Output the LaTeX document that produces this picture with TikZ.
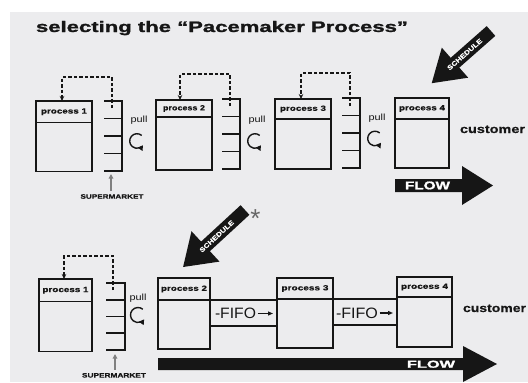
\documentclass[tikz,border=0pt]{standalone}
\usepackage{fontspec}
\usepackage{graphicx}
\setmainfont{Liberation Sans}
\newfontfamily\heavy[FakeBold=1.3]{Liberation Sans Bold}
\newfontfamily\boldf[FakeBold=0.4]{Liberation Sans Bold}
\usetikzlibrary{arrows.meta,calc}
\newcommand{\fitbox}[3]{\resizebox{#1pt}{#2pt}{#3}}
\definecolor{bg}{RGB}{236,236,238}
\definecolor{ink}{RGB}{22,22,22}
\definecolor{smgray}{RGB}{128,128,128}
\tikzset{
  procbox/.style={draw=ink, line width=1.6pt, outer sep=0pt, inner sep=0pt},
  procline/.style={draw=ink, line width=1.6pt},
  smline/.style={draw=ink, line width=1.6pt},
  kanban/.style={draw=ink, line width=1.1pt, dash pattern=on 3.5pt off 2pt, -{Stealth[length=5pt,width=4.5pt]}},
  cyc/.style={draw=ink, line width=1.4pt, -{Triangle[length=5pt,width=5.5pt]}},
  txt/.style={inner sep=0pt, outer sep=0pt, text=ink},
  smarrow/.style={draw=smgray, line width=1.3pt, -{Triangle[length=4.5pt,width=4.5pt]}},
  fifoarrow/.style={draw=ink, line width=1.2pt, -{Triangle[length=5pt,width=4pt]}},
  bigarrow/.style={fill=ink}
}
\newcommand{\procbox}[8]{%
  \node[procbox, minimum width=#4pt, minimum height=#5pt, anchor=north west] (#1) at (#2,#3) {};
  \draw[procline] ($(#1.north west)+(0,#6)$) -- ($(#1.north east)+(0,#6)$);
  \node[txt] (#1lbl) at ($(#1.north)+(0,#6/2)$) {\boldf\fitbox{#7}{5.2}{process #8}};
}
\newcommand{\smkt}[5]{% name x ytop ybot ticklen
  \coordinate (#1) at (#2,#3);
  \draw[smline] (#2,#3) -- (#2,#4);
  \foreach \i in {0,...,4}{
    \draw[smline] ({#2-#5},{#3+\i*(#4-#3)/4}) -- ({#2+0.8},{#3+\i*(#4-#3)/4});
  }
}
\begin{document}
\begin{tikzpicture}[x=1pt,y=-1pt]
\useasboundingbox (0,0) rectangle (528,383);
\fill[bg] (10,12) rectangle (528,382);

% title
\node[txt, anchor=base west] (title) at (36,32) {\heavy\fitbox{372}{11}{selecting the “Pacemaker Process”}};

% ---------- top row ----------
\procbox{t1}{36}{101}{56}{70.5}{21.5}{46}{1}
\procbox{t2}{156}{100}{56}{70}{17}{42}{2}
\procbox{t3}{275}{99}{56}{70}{20}{46}{3}
\procbox{t4}{395}{98}{54}{70}{21}{46}{4}

\smkt{s1}{122}{101}{171}{18}
\smkt{s2}{240}{99}{169}{18}
\smkt{s3}{360}{98}{168}{18}

\coordinate (k1) at (112,108);
\coordinate (k2) at (230,106);
\coordinate (k3) at (350,106);
\draw[kanban] (k1) -- (k1 |- 0,77) -| ($(t1.north west)+(26,0)$);
\draw[kanban] (k2) -- (k2 |- 0,74) -| ($(t2.north west)+(24,0)$);
\draw[kanban] (k3) -- (k3 |- 0,73) -| ($(t3.north west)+(26,0)$);

\node[txt] (pull1) at (139,120.5) {\fitbox{17}{6.5}{pull}};
\node[txt] (pull2) at (257,120) {\fitbox{17}{6.5}{pull}};
\node[txt] (pull3) at (377,118) {\fitbox{17}{6.5}{pull}};
\coordinate (c1) at (137,141);
\coordinate (c2) at (255,141);
\coordinate (c3) at (375,138.5);
\foreach \c in {c1,c2,c3}{
  \draw[cyc] (\c) ++(-50:7.3) arc[start angle=-50, end angle=-325, radius=7.3];
}

\node[txt] (sm1lbl) at (112,196.5) {\boldf\fitbox{63}{4.5}{SUPERMARKET}};
\draw[smarrow] (111,191) -- (111,174);

\node[txt, anchor=base west] (cust1) at (460,133) {\boldf\fitbox{65}{7.5}{customer}};

% FLOW top
\fill[bigarrow] (395,179) -- (462,179) -- (462,166) -- (493,185.5) -- (462,205) -- (462,192) -- (395,192) -- cycle;
\node[txt, anchor=base west, text=white] (flow1) at (405,189.3) {\heavy\fitbox{45}{7.8}{FLOW}};

% SCHEDULE top
\fill[bigarrow] (486.7,26.1) -- (450.7,57.8) -- (441.8,47.7) -- (431.7,83.2) -- (468.2,77.7) -- (459.3,67.6) -- (495.3,35.9) -- cycle;
\node[txt, text=white, rotate=41.4] (sch1) at (464.7,54.4) {\boldf\fitbox{44}{4.6}{SCHEDULE}};

% ---------- bottom row ----------
\procbox{b1}{39}{279}{53}{72.5}{22.5}{46}{1}
\procbox{b2}{158}{278}{52}{71}{22}{46}{2}
\procbox{b3}{277}{278}{56}{70}{21}{47}{3}
\procbox{b4}{397}{277}{55}{70}{20}{47}{4}

\smkt{s4}{125}{283}{350}{19}
\coordinate (k4) at (113,290);
\draw[kanban] (k4) -- (k4 |- 0,256) -| ($(b1.north west)+(25,0)$);

\node[txt] (pull4) at (138,298) {\fitbox{17}{6.5}{pull}};
\coordinate (c4) at (138,315);
\draw[cyc] (c4) ++(-50:7.5) arc[start angle=-50, end angle=-325, radius=7.5];

\node[txt] (sm2lbl) at (114,375.3) {\boldf\fitbox{64}{4.5}{SUPERMARKET}};
\draw[smarrow] (115,369.5) -- (115,354);

% FIFO lanes
\draw[procline] (b2.east |- 0,300) -- (b3.west |- 0,300);
\draw[procline] (b2.east |- 0,326) -- (b3.west |- 0,326);
\draw[procline] (b3.east |- 0,299) -- (b4.west |- 0,299);
\draw[procline] (b3.east |- 0,325) -- (b4.west |- 0,325);
\node[txt, anchor=base west] (fifo1) at (215,318) {\fitbox{41}{10.5}{-FIFO}};
\node[txt, anchor=base west] (fifo2) at (336,318) {\fitbox{42}{10.5}{-FIFO}};
\coordinate (fa1) at (273,313.5);
\coordinate (fa2) at (393,313);
\draw[fifoarrow] (fifo1.east |- fa1) ++(1.5,0) -- (fa1);
\draw[fifoarrow] (fifo2.east |- fa2) ++(1.5,0) -- (fa2);

\node[txt, anchor=base west] (cust2) at (463,312) {\boldf\fitbox{63}{7.5}{customer}};

% FLOW bottom
\fill[bigarrow] (158,358) -- (463,358) -- (463,346) -- (497,364) -- (463,382) -- (463,370) -- (158,370) -- cycle;
\node[txt, anchor=base west, text=white] (flow2) at (407,367.7) {\heavy\fitbox{48}{7}{FLOW}};

% SCHEDULE bottom
\fill[bigarrow] (240.6,205.2) -- (201.1,241.6) -- (191.5,231.2) -- (183.1,267) -- (219.5,261.6) -- (209.9,251.2) -- (249.4,214.8) -- cycle;
\node[txt, text=white, rotate=42.6] (sch2) at (216.7,236.3) {\boldf\fitbox{44}{4.6}{SCHEDULE}};
\node[txt, text=smgray!80!black, anchor=north] (star) at (255.5,210) {\fontsize{26}{26}\selectfont *};

\end{tikzpicture}
\end{document}
